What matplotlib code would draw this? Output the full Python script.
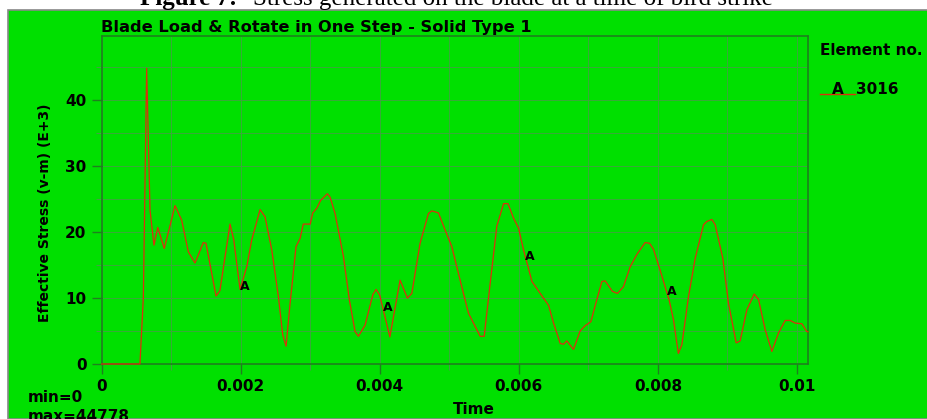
import matplotlib
matplotlib.use("Agg")
import matplotlib.pyplot as plt
from matplotlib.lines import Line2D
from matplotlib.patches import Rectangle
from matplotlib.ticker import MultipleLocator

# stress history of element 3016 (time in s, stress in E+3)
time = [0, 0.00055, 0.000599, 0.000647, 0.000695, 0.000752, 0.000806, 0.0009,
        0.001055, 0.00115, 0.001246, 0.001342, 0.001462, 0.0015, 0.001645, 0.0017,
        0.001846, 0.0019, 0.00199, 0.002086, 0.002158, 0.002278, 0.00235, 0.002446,
        0.002542, 0.002604, 0.002652, 0.00271, 0.002796, 0.002853, 0.0029, 0.003,
        0.003036, 0.003094, 0.00315, 0.003247, 0.003285, 0.003357, 0.003477, 0.003563,
        0.003645, 0.003693, 0.003789, 0.0039, 0.003947, 0.004, 0.004145, 0.004292,
        0.004397, 0.004461, 0.00458, 0.0047, 0.004748, 0.004844, 0.00494, 0.005036,
        0.005156, 0.005276, 0.005372, 0.005444, 0.005502, 0.005588, 0.005684, 0.005781,
        0.005844, 0.005924, 0.005996, 0.006068, 0.006189, 0.006308, 0.006428, 0.0065,
        0.006596, 0.006644, 0.006691, 0.006787, 0.006882, 0.006954, 0.007036, 0.007113,
        0.007195, 0.007242, 0.007347, 0.007419, 0.007505, 0.007601, 0.007698, 0.007817,
        0.00788, 0.007937, 0.008045, 0.008165, 0.008225, 0.008295, 0.008345, 0.008441,
        0.008537, 0.008657, 0.008705, 0.008777, 0.008825, 0.008935, 0.009016, 0.009127,
        0.009184, 0.00928, 0.009386, 0.009448, 0.009544, 0.00964, 0.009736, 0.009832,
        0.009904, 0.009976, 0.010072, 0.010144, 0.01016]
stress = [0, 0, 10.0, 44.78, 23.3, 18.0, 20.7, 17.5,
          24.0, 21.8, 17.0, 15.3, 18.4, 18.3, 10.3, 11.1,
          21.2, 18.8, 11.3, 14.7, 18.8, 23.4, 22.3, 17.3,
          10.2, 4.4, 2.7, 9.2, 17.8, 19.0, 21.2, 21.2,
          22.9, 23.6, 24.8, 25.8, 25.3, 22.8, 16.3, 9.7,
          4.9, 4.2, 5.9, 10.5, 11.3, 10.4, 4.1, 12.7,
          10.0, 10.7, 18.3, 22.8, 23.2, 22.9, 20.3, 17.8,
          12.7, 7.7, 5.7, 4.2, 4.2, 12.2, 20.9, 24.3,
          24.3, 22.1, 20.6, 17.3, 12.5, 10.7, 8.9, 6.2,
          3.1, 3.0, 3.5, 2.2, 5.0, 5.8, 6.4, 9.4,
          12.5, 12.6, 11.0, 10.7, 11.7, 14.7, 16.6, 18.4,
          18.3, 17.4, 13.8, 9.6, 6.7, 1.6, 2.9, 10.2,
          16.0, 21.1, 21.6, 21.9, 21.1, 16.0, 9.2, 3.2,
          3.5, 8.2, 10.6, 9.8, 5.2, 1.9, 4.7, 6.6,
          6.6, 6.2, 6.1, 4.9, 4.9]

# curve label "A" positions
label_time = [0.00206, 0.00411, 0.00616, 0.0082]
label_stress = [11.7, 8.6, 16.3, 11.0]

xtick_vals = [0, 0.002, 0.004, 0.006, 0.008, 0.01]
xtick_labels = ["0", "0.002", "0.004", "0.006", "0.008", "0.01"]
ytick_vals = [0, 10, 20, 30, 40]

W, H = 927, 419
GREEN = "#00e000"
RED = "#dc300c"
DARK = "#1f7f1f"
GRID = "#44a044"

plt.rcParams["font.family"] = "DejaVu Sans"
plt.rcParams["font.weight"] = "bold"

fig = plt.figure(figsize=(W / 100, H / 100), dpi=100, facecolor="white")


def fx(px):
    return px / W


def fy(py):
    return 1 - py / H


# green panel below the caption
fig.patches.append(Rectangle((fx(8), 0), 1, fy(10), transform=fig.transFigure,
                             facecolor=GREEN, edgecolor="#888888", lw=1.2, zorder=-5))

fig.text(fx(140), fy(4.5), "Figure 7:", family="Liberation Serif", weight="bold",
         fontsize=18, va="baseline", ha="left")
fig.text(fx(253), fy(4.5), "Stress generated on the blade at a time of bird strike",
         family="Liberation Serif", weight="normal", fontsize=18, va="baseline", ha="left")

ax = fig.add_axes([fx(101.7), fy(364), fx(808) - fx(101.7), fy(36) - fy(364)])
ax.set_facecolor(GREEN)

ax.plot(time, stress, color=RED, lw=0.9, zorder=3, clip_on=False)
for t, s in zip(label_time, label_stress):
    ax.text(t, s, "A", fontsize=9, weight="bold", ha="center", va="center", zorder=4)

ax.set_xlim(0, 0.01016)
ax.set_ylim(0, 49.7)
ax.set_xticks(xtick_vals)
ax.set_xticklabels(xtick_labels)
ax.set_yticks(ytick_vals)
ax.xaxis.set_minor_locator(MultipleLocator(0.001))
ax.yaxis.set_minor_locator(MultipleLocator(5))

ax.grid(True, which="both", color=GRID, lw=0.6)
ax.tick_params(which="major", length=7, width=1.0, color=DARK, labelsize=11, pad=4)
ax.tick_params(which="minor", length=4, width=0.8, color=GRID)
for lab in ax.get_xticklabels() + ax.get_yticklabels():
    lab.set_fontweight("bold")
for sp in ax.spines.values():
    sp.set_color(DARK)
    sp.set_linewidth(1.2)
    sp.set_zorder(2)

fig.text(fx(101), fy(32), "Blade Load & Rotate in One Step - Solid Type 1",
         fontsize=11.7, weight="bold", ha="left", va="baseline")
fig.text(fx(45), fy(213), "Effective Stress (v-m) (E+3)", fontsize=10, weight="bold",
         rotation=90, ha="center", va="center")
fig.text(fx(474), fy(414), "Time", fontsize=11, weight="bold", ha="center", va="baseline")
fig.text(fx(28), fy(402), "min=0", fontsize=11, weight="bold", ha="left", va="baseline")
fig.text(fx(28), fy(421), "max=44778", fontsize=11, weight="bold", ha="left", va="baseline")

# element legend
fig.text(fx(820), fy(55), "Element no.", fontsize=11, weight="bold", ha="left", va="baseline")
fig.lines.append(Line2D([fx(820), fx(855)], [fy(94.5), fy(94.5)], transform=fig.transFigure,
                        color=RED, lw=1.0))
fig.text(fx(832), fy(94), "A", fontsize=11, weight="bold", ha="left", va="baseline")
fig.text(fx(856), fy(94), "3016", fontsize=11, weight="bold", ha="left", va="baseline")

fig.savefig("out.png", dpi=100, facecolor=fig.get_facecolor())
